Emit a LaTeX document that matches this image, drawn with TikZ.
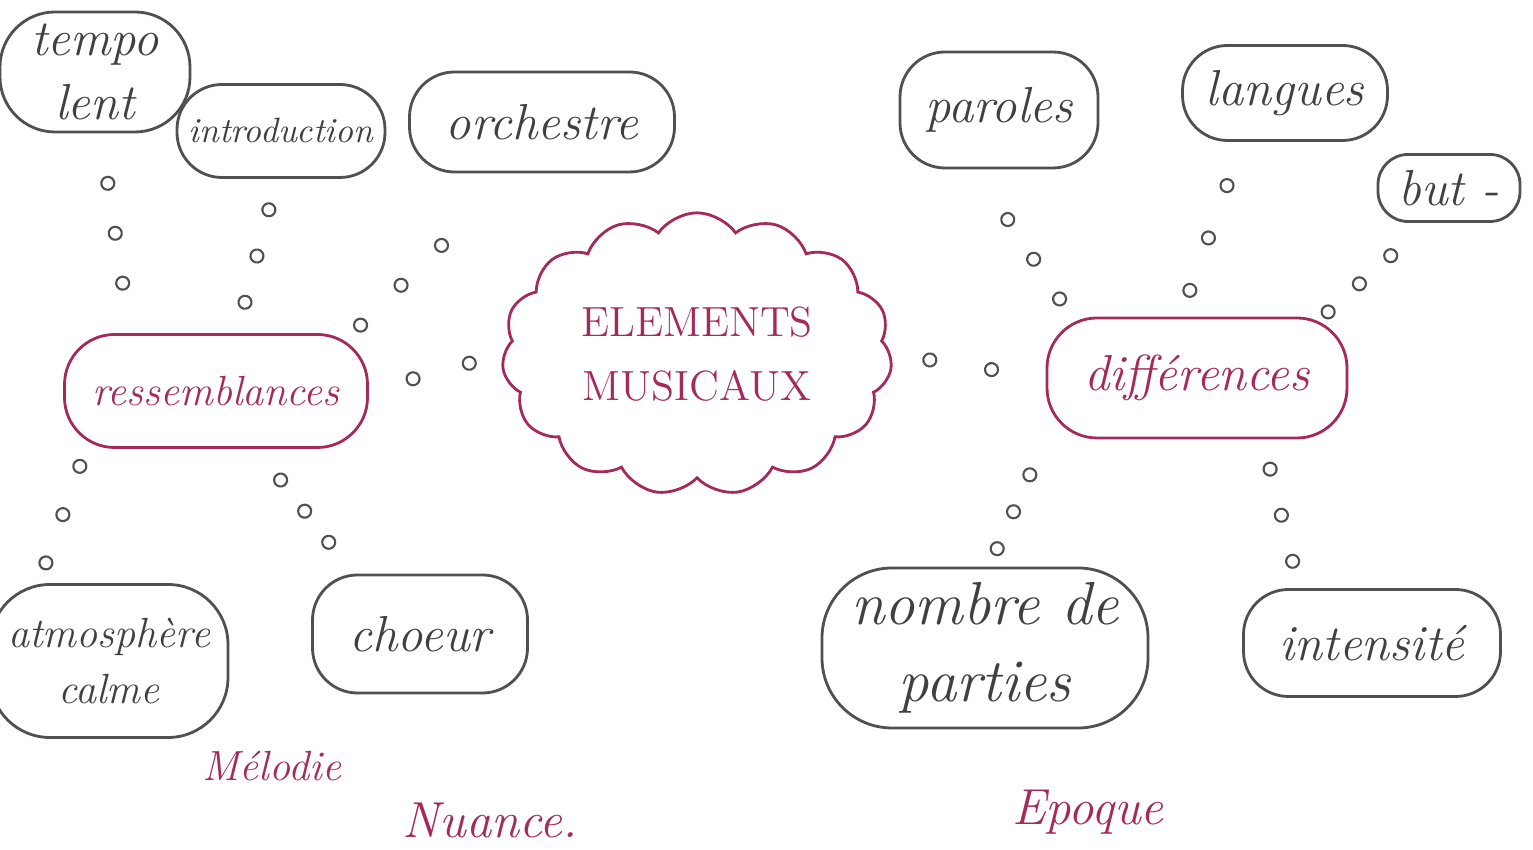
\documentclass[tikz,border=0pt]{standalone}
\usepackage{tikz}
\usetikzlibrary{shapes.symbols,decorations.markings}
\definecolor{pen_gray}{HTML}{505050}
\definecolor{pen_red}{HTML}{A52A5C}
\newcommand{\bubl}{\draw[pen_gray,line width=0.6pt] (0,0) circle (0.065);}

\begin{document}
\begin{tikzpicture}[
    idea/.style={draw=pen_gray,thick,rounded corners=0.45cm,inner sep=0pt,align=center,text=pen_gray!80!black,font=\Large\itshape},
    branch/.style={draw=pen_red,thick,rounded corners=0.5cm,inner sep=0pt,text=pen_red,font=\Large\itshape},
    note/.style={text=pen_red,font=\Large\itshape},
    bubbles/.style={postaction={decorate},decoration={markings,mark=between positions #1 with {\bubl}}},
    bubbles/.default={0.25 and 0.76 step 0.25}
  ]
    \useasboundingbox (0,0) rectangle (15.33,-8.5);
    % centre
    \node[cloud,draw=pen_red,thick,cloud puffs=15,cloud puff arc=110,aspect=1.45,
      minimum width=3.9cm,minimum height=2.7cm,align=center,text=pen_red,font=\large] (cent) at (6.97,-3.54) {ELEMENTS\\[4pt]MUSICAUX};
    \node[branch,minimum width=3.03cm,minimum height=1.13cm,font=\large\itshape] (ress) at (2.16,-3.91) {ressemblances};
    \node[branch,minimum width=3.0cm,minimum height=1.2cm] (diff) at (11.97,-3.78) {différences};
    % top row
    \node[idea,minimum width=1.9cm,minimum height=1.2cm,rounded corners=0.55cm] (tempo) at (0.95,-0.72) {tempo\\lent};
    \node[idea,minimum width=2.08cm,minimum height=0.93cm,font=\normalsize\itshape] (intro) at (2.81,-1.31) {introduction};
    \node[idea,minimum width=2.65cm,minimum height=1.0cm] (orch) at (5.42,-1.22) {orchestre};
    \node[idea,minimum width=1.98cm,minimum height=1.16cm] (parol) at (9.99,-1.10) {paroles};
    \node[idea,minimum width=2.05cm,minimum height=0.95cm] (lang) at (12.85,-0.93) {langues};
    \node[idea,minimum width=1.42cm,minimum height=0.67cm,rounded corners=0.3cm] (but) at (14.49,-1.88) {but -};
    % bottom row
    \node[idea,minimum width=2.38cm,minimum height=1.53cm,rounded corners=0.6cm,font=\large\itshape] (atmo) at (1.09,-6.61) {atmosphère\\[2pt]calme};
    \node[idea,minimum width=2.15cm,minimum height=1.18cm] (choeur) at (4.20,-6.34) {choeur};
    \node[idea,minimum width=3.26cm,minimum height=1.6cm,rounded corners=0.7cm,font=\LARGE\itshape] (nomb) at (9.85,-6.48) {nombre de\\parties};
    \node[idea,minimum width=2.57cm,minimum height=1.07cm] (inten) at (13.72,-6.43) {intensité};
    % loose words
    \node[note,font=\large\itshape] (melo) at (2.72,-7.66) {Mélodie};
    \node[note] (nuan) at (4.90,-8.20) {Nuance.};
    \node[note] (epoq) at (10.88,-8.12) {Epoque};
    % bubble chains
    \path[bubbles] (ress.146) -- (tempo.275);
    \path[bubbles={0.2 and 0.81 step 0.3}] (ress.70) -- (intro.265);
    \path[bubbles={0.05 and 0.56 step 0.25}] (ress.23) -- (orch.242);
    \path[bubbles={0.33 and 0.76 step 0.42}] (ress.east) -- (cent.west);
    \path[bubbles={0.25 and 0.66 step 0.4}] (cent.east) -- (diff.west);
    \path[bubbles={0.12 and 0.67 step 0.27}] (diff.154) -- (parol.248);
    \path[bubbles={0.15 and 0.76 step 0.3}] (diff.105) -- (lang.229);
    \path[bubbles={0.05 and 0.66 step 0.3}] (diff.26) -- (but.238);
    \path[bubbles={0.13 and 0.86 step 0.36}] (ress.204) -- (atmo.132);
    \path[bubbles] (ress.305) -- (choeur.138);
    \path[bubbles={0.28 and 0.87 step 0.29}] (diff.202) -- (nomb.87);
    \path[bubbles={0.2 and 0.83 step 0.31}] (diff.317) -- (inten.143);
  \end{tikzpicture}
\end{document}
